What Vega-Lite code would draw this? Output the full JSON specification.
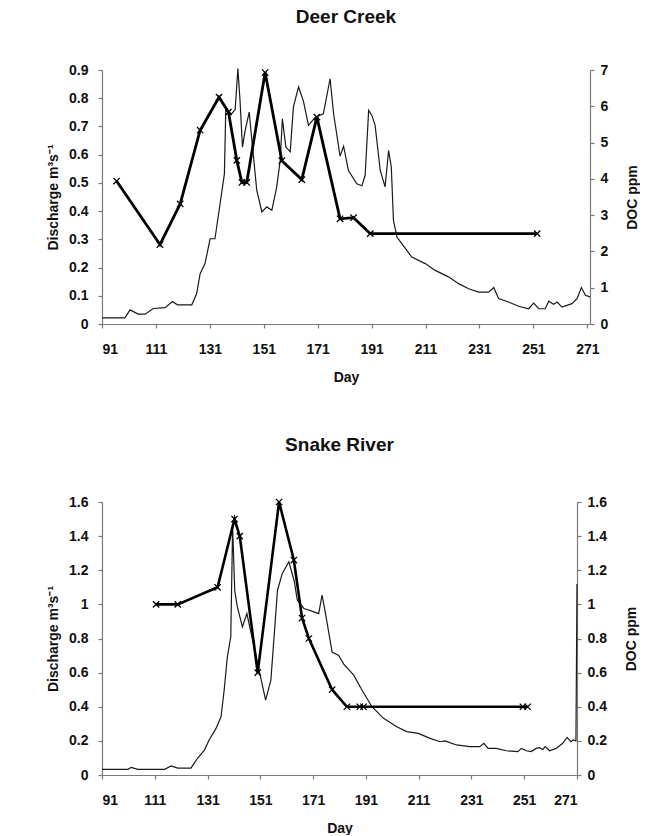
{
  "$schema": "https://vega.github.io/schema/vega-lite/v6.json",
  "padding": {"left": 46, "top": 8, "right": 0, "bottom": 0},
  "background": "white",
  "config": {
    "font": "Liberation Sans",
    "view": {"stroke": null},
    "concat": {"spacing": 52},
    "axis": {
      "grid": false, "domainColor": "#7a7a7a", "tickColor": "#7a7a7a", "domainWidth": 1.2, "tickWidth": 1.2,
      "labelFont": "Liberation Sans", "labelFontWeight": "bold", "labelFontSize": 14, "labelColor": "#111",
      "titleFont": "Liberation Sans", "titleFontWeight": "bold", "titleFontSize": 14, "titleColor": "#111",
      "tickSize": 4, "labelPadding": 6
    },
    "title": {"font": "Liberation Sans", "fontSize": 19, "fontWeight": "bold", "color": "#111"}
  },
  "datasets": {
    "dc_q": [
      {"day": 91, "q": 0.022}, {"day": 99.5, "q": 0.022}, {"day": 101.4, "q": 0.05}, {"day": 104.4, "q": 0.035},
      {"day": 107, "q": 0.035}, {"day": 110, "q": 0.055}, {"day": 114.4, "q": 0.058}, {"day": 117.1, "q": 0.08},
      {"day": 119, "q": 0.068}, {"day": 124.3, "q": 0.068}, {"day": 126.1, "q": 0.107}, {"day": 127.4, "q": 0.178},
      {"day": 129.2, "q": 0.214}, {"day": 131.1, "q": 0.302}, {"day": 132.9, "q": 0.302}, {"day": 134.8, "q": 0.426},
      {"day": 136.4, "q": 0.532}, {"day": 136.9, "q": 0.757}, {"day": 139.1, "q": 0.745}, {"day": 140.4, "q": 0.76},
      {"day": 141.4, "q": 0.905}, {"day": 142.2, "q": 0.79}, {"day": 143.1, "q": 0.627}, {"day": 144.1, "q": 0.686},
      {"day": 145.6, "q": 0.751}, {"day": 146.6, "q": 0.65}, {"day": 148.4, "q": 0.474}, {"day": 150.3, "q": 0.397},
      {"day": 152.1, "q": 0.415}, {"day": 154, "q": 0.403}, {"day": 155.8, "q": 0.486}, {"day": 157.1, "q": 0.58},
      {"day": 157.9, "q": 0.727}, {"day": 159.2, "q": 0.627}, {"day": 160.8, "q": 0.61}, {"day": 162, "q": 0.769},
      {"day": 163.9, "q": 0.84}, {"day": 165.7, "q": 0.79}, {"day": 167.6, "q": 0.704}, {"day": 170.1, "q": 0.733},
      {"day": 173.1, "q": 0.745}, {"day": 175.6, "q": 0.869}, {"day": 176.9, "q": 0.745}, {"day": 179.3, "q": 0.595},
      {"day": 180.6, "q": 0.63}, {"day": 182.4, "q": 0.544}, {"day": 185.5, "q": 0.497}, {"day": 187.4, "q": 0.49},
      {"day": 188.6, "q": 0.527}, {"day": 189.9, "q": 0.757}, {"day": 191.1, "q": 0.739}, {"day": 192.3, "q": 0.704},
      {"day": 194.2, "q": 0.544}, {"day": 196, "q": 0.486}, {"day": 197.3, "q": 0.615}, {"day": 198.3, "q": 0.556},
      {"day": 199.1, "q": 0.367}, {"day": 200.4, "q": 0.308}, {"day": 202.2, "q": 0.285}, {"day": 205.9, "q": 0.237},
      {"day": 210.9, "q": 0.214}, {"day": 214.6, "q": 0.19}, {"day": 219.5, "q": 0.167}, {"day": 223.3, "q": 0.143},
      {"day": 227, "q": 0.125}, {"day": 230.7, "q": 0.113}, {"day": 234.4, "q": 0.113}, {"day": 236.3, "q": 0.129},
      {"day": 238.1, "q": 0.09}, {"day": 241.8, "q": 0.078}, {"day": 245.5, "q": 0.063}, {"day": 249.2, "q": 0.054},
      {"day": 251.1, "q": 0.074}, {"day": 253, "q": 0.054}, {"day": 255.4, "q": 0.054}, {"day": 256.7, "q": 0.081},
      {"day": 258.5, "q": 0.07}, {"day": 259.8, "q": 0.078}, {"day": 261.6, "q": 0.06}, {"day": 265.3, "q": 0.072},
      {"day": 267.2, "q": 0.09}, {"day": 268.8, "q": 0.129}, {"day": 270.3, "q": 0.102}, {"day": 272, "q": 0.096}
    ],
    "dc_doc": [
      {"day": 96.4, "doc": 3.94}, {"day": 112.5, "doc": 2.19}, {"day": 120, "doc": 3.31}, {"day": 127.4, "doc": 5.34},
      {"day": 134.4, "doc": 6.25}, {"day": 137.9, "doc": 5.84}, {"day": 141, "doc": 4.51}, {"day": 142.9, "doc": 3.9},
      {"day": 144.7, "doc": 3.9}, {"day": 151.5, "doc": 6.93}, {"day": 157.7, "doc": 4.5}, {"day": 165.1, "doc": 3.98},
      {"day": 170.7, "doc": 5.7}, {"day": 179.3, "doc": 2.9}, {"day": 184.3, "doc": 2.93}, {"day": 190.5, "doc": 2.49},
      {"day": 252.4, "doc": 2.49}
    ],
    "sr_q": [
      {"day": 91, "q": 0.033}, {"day": 100.8, "q": 0.033}, {"day": 102.1, "q": 0.045}, {"day": 104.6, "q": 0.033},
      {"day": 114.7, "q": 0.033}, {"day": 117.2, "q": 0.053}, {"day": 119.7, "q": 0.04}, {"day": 124.7, "q": 0.04},
      {"day": 127.2, "q": 0.098}, {"day": 129.8, "q": 0.146}, {"day": 131.6, "q": 0.205}, {"day": 134.2, "q": 0.273},
      {"day": 136.1, "q": 0.341}, {"day": 137.3, "q": 0.498}, {"day": 138.5, "q": 0.693}, {"day": 139.8, "q": 0.81},
      {"day": 140.5, "q": 1.45}, {"day": 141.3, "q": 1.08}, {"day": 142.3, "q": 0.985}, {"day": 144.2, "q": 0.868},
      {"day": 145.9, "q": 0.946}, {"day": 153, "q": 0.439}, {"day": 155, "q": 0.556}, {"day": 157.5, "q": 1.083},
      {"day": 159.3, "q": 1.18}, {"day": 161.8, "q": 1.25}, {"day": 163.8, "q": 1.14}, {"day": 165, "q": 1.025},
      {"day": 167.5, "q": 0.976}, {"day": 171.3, "q": 0.956}, {"day": 173.1, "q": 0.946}, {"day": 174.4, "q": 1.054},
      {"day": 175.7, "q": 0.946}, {"day": 178.2, "q": 0.72}, {"day": 180.7, "q": 0.7}, {"day": 182.6, "q": 0.65},
      {"day": 186.4, "q": 0.585}, {"day": 189.5, "q": 0.498}, {"day": 193.3, "q": 0.4}, {"day": 197.7, "q": 0.332},
      {"day": 202.7, "q": 0.283}, {"day": 206.5, "q": 0.254}, {"day": 210.9, "q": 0.244}, {"day": 215.3, "q": 0.215},
      {"day": 219.1, "q": 0.195}, {"day": 221, "q": 0.2}, {"day": 225.3, "q": 0.176}, {"day": 230.4, "q": 0.166},
      {"day": 234.2, "q": 0.166}, {"day": 235.7, "q": 0.186}, {"day": 237.3, "q": 0.156}, {"day": 240.4, "q": 0.156},
      {"day": 244.2, "q": 0.142}, {"day": 248.6, "q": 0.137}, {"day": 249.9, "q": 0.156}, {"day": 251.8, "q": 0.142},
      {"day": 253.6, "q": 0.137}, {"day": 255.5, "q": 0.156}, {"day": 256.8, "q": 0.16}, {"day": 258, "q": 0.15},
      {"day": 259, "q": 0.166}, {"day": 260.6, "q": 0.142}, {"day": 263.1, "q": 0.156}, {"day": 265.6, "q": 0.186},
      {"day": 267.2, "q": 0.22}, {"day": 268.7, "q": 0.195}, {"day": 269.6, "q": 0.205}, {"day": 270.6, "q": 0.2},
      {"day": 271, "q": 1.12}
    ],
    "sr_doc": [
      {"day": 111.5, "doc": 1.0}, {"day": 119.7, "doc": 1.0}, {"day": 134.8, "doc": 1.1}, {"day": 141.2, "doc": 1.5},
      {"day": 143.2, "doc": 1.4}, {"day": 150, "doc": 0.6}, {"day": 158.1, "doc": 1.6}, {"day": 163.7, "doc": 1.26},
      {"day": 166.8, "doc": 0.92}, {"day": 169.4, "doc": 0.8}, {"day": 178.2, "doc": 0.5}, {"day": 183.8, "doc": 0.4},
      {"day": 188.7, "doc": 0.4}, {"day": 190.1, "doc": 0.4}, {"day": 250.5, "doc": 0.4}, {"day": 252.3, "doc": 0.4}
    ]
  },
  "vconcat": [
    {
      "title": {"text": "Deer Creek", "offset": 36},
      "width": 488, "height": 254,
      "resolve": {"scale": {"y": "independent"}},
      "layer": [
        {
          "data": {"name": "dc_q"},
          "mark": {"type": "line", "color": "#1a1a1a", "strokeWidth": 1.2},
          "encoding": {
            "x": {"field": "day", "type": "quantitative", "scale": {"domain": [91, 272], "nice": false, "zero": false},
              "axis": {"title": "Day", "values": [91,101,111,121,131,141,151,161,171,181,191,201,211,221,231,241,251,261,271],
                "labelExpr": "(datum.value - 91) % 20 == 0 ? datum.label : ''", "labelPadding": 14, "titlePadding": 14}},
            "y": {"field": "q", "type": "quantitative", "scale": {"domain": [0, 0.9], "nice": false},
              "axis": {"orient": "left", "title": "Discharge m³s⁻¹", "values": [0,0.1,0.2,0.3,0.4,0.5,0.6,0.7,0.8,0.9], "format": "~g", "labelPadding": 10, "titlePadding": 8}}
          }
        },
        {
          "data": {"name": "dc_doc"},
          "mark": {"type": "line", "color": "black", "strokeWidth": 2.8,
            "point": {"shape": "M-1,-1L1,1M-1,1L1,-1", "filled": false, "size": 40, "color": "black", "strokeWidth": 1.3}},
          "encoding": {
            "x": {"field": "day", "type": "quantitative"},
            "y": {"field": "doc", "type": "quantitative", "scale": {"domain": [0, 7], "nice": false},
              "axis": {"orient": "right", "title": "DOC ppm", "titleAngle": 270, "titleBaseline": "top", "values": [0,1,2,3,4,5,6,7], "titlePadding": 18}}
          }
        }
      ]
    },
    {
      "title": {"text": "Snake River", "offset": 40},
      "width": 475, "height": 273,
      "resolve": {"scale": {"y": "independent"}},
      "layer": [
        {
          "data": {"name": "sr_q"},
          "mark": {"type": "line", "color": "#1a1a1a", "strokeWidth": 1.2},
          "encoding": {
            "x": {"field": "day", "type": "quantitative", "scale": {"domain": [91, 271], "nice": false, "zero": false},
              "axis": {"title": "Day", "values": [91,101,111,121,131,141,151,161,171,181,191,201,211,221,231,241,251,261,271],
                "labelExpr": "(datum.value - 91) % 20 == 0 ? datum.label : ''", "labelPadding": 14, "titlePadding": 14}},
            "y": {"field": "q", "type": "quantitative", "scale": {"domain": [0, 1.6], "nice": false},
              "axis": {"orient": "left", "title": "Discharge m³s⁻¹", "values": [0,0.2,0.4,0.6,0.8,1,1.2,1.4,1.6], "format": "~g", "labelPadding": 10, "titlePadding": 8}}
          }
        },
        {
          "data": {"name": "sr_doc"},
          "mark": {"type": "line", "color": "black", "strokeWidth": 2.6,
            "point": {"shape": "M-1,-1L1,1M-1,1L1,-1", "filled": false, "size": 40, "color": "black", "strokeWidth": 1.3}},
          "encoding": {
            "x": {"field": "day", "type": "quantitative"},
            "y": {"field": "doc", "type": "quantitative", "scale": {"domain": [0, 1.6], "nice": false},
              "axis": {"orient": "right", "title": "DOC ppm", "titleAngle": 270, "titleBaseline": "top", "values": [0,0.2,0.4,0.6,0.8,1,1.2,1.4,1.6], "format": "~g", "titlePadding": 18}}
          }
        }
      ]
    }
  ]
}
